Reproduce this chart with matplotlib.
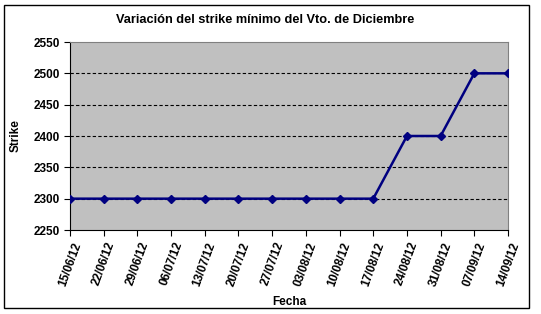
import numpy as np
import matplotlib
matplotlib.use('Agg')
import matplotlib.pyplot as plt
from matplotlib.patches import Rectangle

fechas = ['15/06/12', '22/06/12', '29/06/12', '06/07/12', '13/07/12', '20/07/12',
          '27/07/12', '03/08/12', '10/08/12', '17/08/12', '24/08/12', '31/08/12',
          '07/09/12', '14/09/12']
strike = [2300, 2300, 2300, 2300, 2300, 2300, 2300, 2300, 2300, 2300,
          2400, 2400, 2500, 2500]
yticks = [2250, 2300, 2350, 2400, 2450, 2500, 2550]

plt.rcParams['font.family'] = ['Liberation Sans', 'DejaVu Sans']

fig = plt.figure(figsize=(5.41, 3.14), dpi=100)
fig.patch.set_facecolor('white')
# marco exterior del grafico
fig.patches.append(Rectangle((4/541, 6/314), 525/541, 303/314, transform=fig.transFigure,
                             fill=False, edgecolor='black', linewidth=1.0))

ax = fig.add_axes([70/541, 1 - 230/314, 438/541, 188/314])
ax.set_facecolor('#c0c0c0')

x = np.arange(len(fechas))
for yv in yticks[1:-1]:
    ax.axhline(yv, color='black', linestyle=(0, (3, 2)), linewidth=0.8, zorder=1)

ax.plot(x, strike, color='#000080', linewidth=1.8, marker='D', markersize=4.5,
        markerfacecolor='#000080', zorder=3)

ax.set_xlim(0, len(fechas) - 1)
ax.set_ylim(2250, 2550)
ax.set_yticks(yticks)
ax.set_xticks(x)
ax.set_xticklabels(fechas, rotation=70, ha='center', va='top')
ax.tick_params(axis='both', direction='out', length=4, width=0.8, labelsize=8.5)
for lab in ax.get_xticklabels() + ax.get_yticklabels():
    lab.set_fontweight('bold')

ax.spines['top'].set_color('#808080')
ax.spines['right'].set_color('#808080')
ax.spines['left'].set_color('black')
ax.spines['bottom'].set_color('black')

fig.text(265/541, 1 - 20/314, 'Variación del strike mínimo del Vto. de Diciembre',
         fontsize=9.2, fontweight='bold', ha='center', va='center')
ax.set_ylabel('Strike', fontsize=8.5, fontweight='bold', labelpad=8)
ax.set_xlabel('Fecha', fontsize=8.5, fontweight='bold', labelpad=6)

fig.savefig('out.png', dpi=100)
